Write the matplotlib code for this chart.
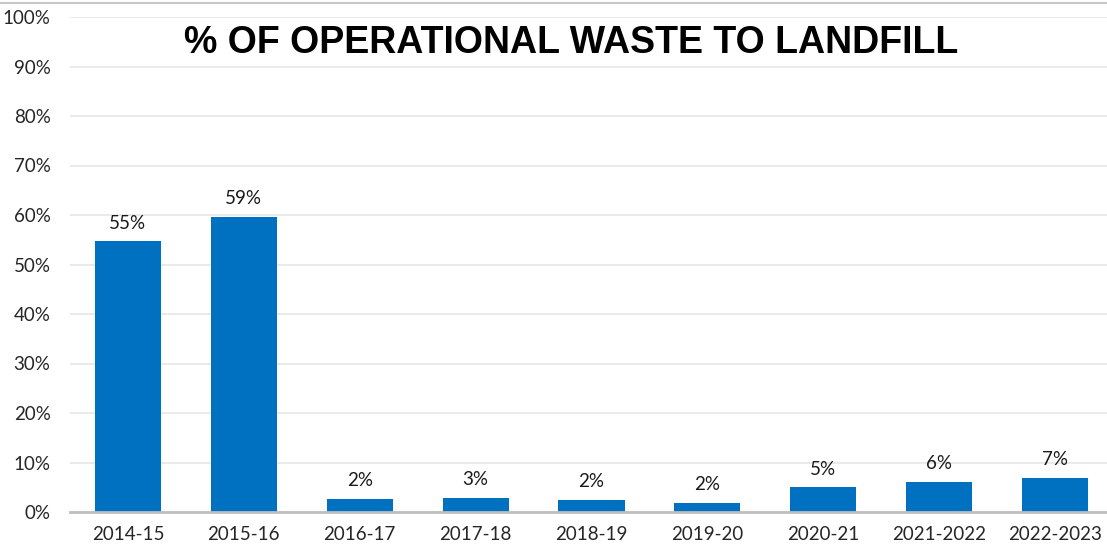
import matplotlib.pyplot as plt
from matplotlib.ticker import FuncFormatter

# data
years = ["2014-15", "2015-16", "2016-17", "2017-18", "2018-19",
         "2019-20", "2020-21", "2021-2022", "2022-2023"]
landfill_pct = [54.7, 59.6, 2.6, 2.9, 2.5, 1.9, 5.0, 6.1, 6.9]
bar_labels = ["55%", "59%", "2%", "3%", "2%", "2%", "5%", "6%", "7%"]
y_ticks = [0, 10, 20, 30, 40, 50, 60, 70, 80, 90, 100]

W, H = 1107, 551
fig = plt.figure(figsize=(W / 100, H / 100), dpi=100)
ax = fig.add_axes([70 / W, 39 / H, 1043 / W, 495 / H])

ax.bar(range(len(years)), landfill_pct, width=0.57, color="#0070C0", zorder=3)
for i, (v, lab) in enumerate(zip(landfill_pct, bar_labels)):
    ax.annotate(lab, (i, v), xytext=(0, 7), textcoords="offset points",
                ha="center", va="bottom", fontsize=13.5, family="Lato", color="#1a1a1a")

ax.set_xlim(-0.5, len(years) - 0.5)
ax.set_ylim(0, 100)
ax.set_yticks(y_ticks)
ax.yaxis.set_major_formatter(FuncFormatter(lambda v, p: f"{v:.0f}%"))
ax.set_xticks(range(len(years)))
ax.set_xticklabels(years)
ax.tick_params(axis="both", length=0, labelsize=13.5, labelcolor="#262626")
ax.tick_params(axis="x", pad=10)
ax.tick_params(axis="y", pad=14)
for lab in ax.get_xticklabels() + ax.get_yticklabels():
    lab.set_family("Lato")

ax.grid(axis="y", color="#E6E6E6", linewidth=1.2, zorder=0)
for s in ["top", "right", "left"]:
    ax.spines[s].set_visible(False)
ax.spines["bottom"].set_color("#BFBFBF")
ax.spines["bottom"].set_linewidth(2)
ax.spines["bottom"].set_zorder(4)

fig.text(571 / W, 1 - 43 / H, "% OF OPERATIONAL WASTE TO LANDFILL",
         ha="center", va="center", fontsize=27, fontweight="bold",
         family="Liberation Sans", color="black")

# thin frame line at the very top
fig.add_artist(plt.Line2D([0, 1], [1 - 3 / H, 1 - 3 / H], color="#C8C8C8",
                          linewidth=1.5, transform=fig.transFigure))

fig.savefig("out.png", dpi=100, facecolor="white")
